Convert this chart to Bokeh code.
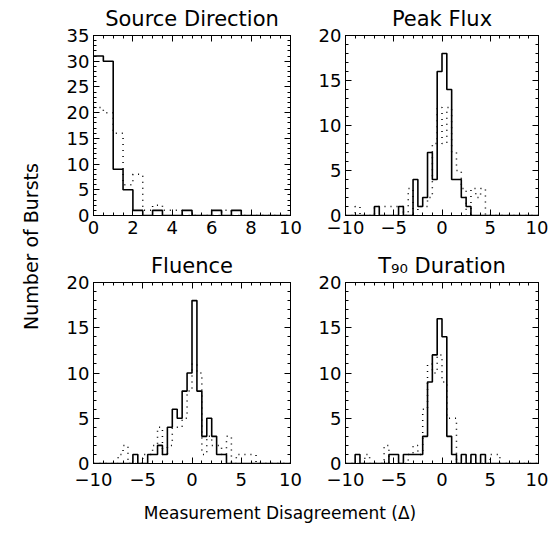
import numpy as np
from bokeh.plotting import figure
from bokeh.layouts import row, column
from bokeh.models import Range1d, FixedTicker, LinearAxis, CustomJSTickFormatter, Title
from bokeh.embed import file_html
from bokeh.resources import INLINE
from bokeh.core.properties import value

FONT = "DejaVu Sans"

# ---------------- data (counts per 0.5-wide bin) ----------------
bin_width = 0.5

# Source Direction: bins start at 0
dir_start = 0.0
dir_solid = [31, 30, 9, 5, 1, 0, 1, 0, 0, 1, 0, 0, 1, 0, 1, 0, 0, 0, 0, 0]
dir_dotted = [21, 20, 16, 6, 8, 1, 2, 1, 1, 0, 0, 0, 0, 1, 0, 0, 0, 0, 0, 0]

# Other panels: bins start at -10 (40 bins)
dis_start = -10.0
peak_solid = [0, 0, 0, 0, 0, 0, 1, 0, 0, 0,
              0, 1, 0, 0, 4, 1, 2, 7, 4, 16,
              18, 14, 4, 4, 2, 1, 0, 0, 0, 0,
              0, 0, 0, 0, 0, 0, 0, 0, 0, 0]
peak_dotted = [0, 0, 1, 0, 0, 0, 1, 1, 1, 1,
               1, 1, 0, 3, 0, 1, 1, 2, 8, 12,
               8, 12, 7, 5, 3, 0, 3, 2, 3, 0,
               0, 0, 0, 0, 0, 0, 0, 0, 0, 0]
flu_solid = [0, 0, 0, 0, 0, 0, 0, 0, 1, 0,
             0, 1, 1, 2, 1, 4, 6, 5, 8, 10,
             18, 8, 3, 5, 3, 1, 1, 0, 0, 0,
             0, 0, 0, 0, 0, 0, 0, 0, 0, 0]
flu_dotted = [0, 0, 0, 0, 0, 1, 2, 0, 0, 0,
              1, 1, 2, 4, 1, 2, 4, 4, 5, 8,
              11, 10, 1, 3, 2, 2, 1, 3, 0, 1,
              1, 1, 1, 0, 0, 0, 0, 0, 0, 0]
t90_solid = [0, 0, 1, 0, 0, 0, 0, 0, 0, 1,
             1, 0, 1, 1, 1, 1, 3, 9, 12, 16,
             14, 3, 1, 0, 1, 0, 1, 0, 1, 0,
             0, 0, 0, 0, 0, 0, 0, 0, 0, 0]
t90_dotted = [0, 0, 0, 0, 1, 0, 0, 0, 2, 0,
              0, 0, 0, 1, 2, 1, 6, 11, 10, 12,
              9, 5, 5, 0, 0, 0, 0, 0, 0, 0,
              1, 1, 0, 0, 0, 0, 0, 0, 0, 0]

titles = ["Source Direction", "Peak Flux", "Fluence", "T\u2089\u2080 Duration"]
y_label = "Number of Bursts"
x_label = "Measurement Disagreement (\u0394)"

dir_xticks = [0, 2, 4, 6, 8, 10]
dis_xticks = [-10, -5, 0, 5, 10]
dir_yticks = [0, 5, 10, 15, 20, 25, 30, 35]
dis_yticks = [0, 5, 10, 15, 20]

# ---------------- helpers ----------------
fmt = CustomJSTickFormatter(code="return tick < 0 ? '\\u2212' + String(Math.abs(tick)) : String(tick);")
blank = CustomJSTickFormatter(code="return '';")


def make_axis(ticks, minor, labels, standoff=5):
    ax = LinearAxis(ticker=FixedTicker(ticks=ticks, minor_ticks=minor),
                    formatter=fmt if labels else blank)
    ax.major_tick_in = 6
    ax.major_tick_out = 0
    ax.minor_tick_in = 3
    ax.minor_tick_out = 0
    ax.axis_line_color = "black"
    ax.major_tick_line_color = "black"
    ax.minor_tick_line_color = "black"
    ax.axis_line_width = 1
    ax.major_label_text_font = FONT
    ax.major_label_text_color = "black"
    if labels:
        ax.major_label_text_font_size = "18px"
        ax.major_label_standoff = standoff
    else:
        ax.major_label_text_font_size = "2px"
        ax.major_label_standoff = 0
    return ax


def panel(title, xr, yr, xticks, xminor, yticks, yminor, start, solid, dotted,
          w, h, bl, br, bt, bb, xstand):
    ttl = Title(text=title, align="center", text_font=FONT, text_font_size="21px",
                text_font_style="normal", text_color="black", standoff=9)
    p = figure(width=w, height=h, x_range=Range1d(*xr), y_range=Range1d(*yr),
               output_backend="svg", toolbar_location=None, title=ttl,
               x_axis_location=None, y_axis_location=None,
               min_border_left=bl, min_border_right=br,
               min_border_top=bt, min_border_bottom=bb)
    p.grid.visible = False
    p.outline_line_color = "black"
    p.background_fill_color = "white"
    p.border_fill_color = "white"
    p.add_layout(make_axis(xticks, xminor, True, xstand), "below")
    p.add_layout(make_axis(yticks, yminor, True, 4), "left")
    p.add_layout(make_axis(xticks, xminor, False), "above")
    p.add_layout(make_axis(yticks, yminor, False), "right")
    n = len(solid)
    edges = [start + bin_width * i for i in range(n + 1)]
    p.step(x=edges, y=list(dotted) + [0], mode="after", line_color="black",
           line_width=1.5, line_dash="1 5")
    p.step(x=edges, y=list(solid) + [0], mode="after", line_color="black",
           line_width=1.6)
    return p


dir_xminor = [i * 0.5 for i in range(0, 21)]
dis_xminor = list(range(-10, 11))
dir_yminor = list(range(0, 36))
dis_yminor = list(range(0, 21))

p1 = panel(titles[0], (0, 10), (0, 35), dir_xticks, dir_xminor, dir_yticks, dir_yminor,
           dir_start, dir_solid, dir_dotted, 265, 245, 43, 25, 33, 30, 5)
p2 = panel(titles[1], (-10, 10), (0, 20), dis_xticks, dis_xminor, dis_yticks, dis_yminor,
           dis_start, peak_solid, peak_dotted, 233, 245, 25, 10, 33, 30, 5)
p3 = panel(titles[2], (-10, 10), (0, 20), dis_xticks, dis_xminor, dis_yticks, dis_yminor,
           dis_start, flu_solid, flu_dotted, 265, 250, 43, 25, 37, 32, 9)
p4 = panel(titles[3], (-10, 10), (0, 20), dis_xticks, dis_xminor, dis_yticks, dis_yminor,
           dis_start, t90_solid, t90_dotted, 233, 250, 25, 10, 37, 32, 9)

# y label strip at the left (full height)
YS_W, YS_H = 50, 527
ys = figure(width=YS_W, height=YS_H, x_range=Range1d(0, YS_W), y_range=Range1d(0, YS_H),
            min_border=0, toolbar_location=None, output_backend="svg",
            x_axis_location=None, y_axis_location=None)
ys.grid.visible = False
ys.outline_line_color = None
ys.text(x=[30], y=[YS_H - 246], text=[y_label], angle=np.pi / 2,
        text_align="center", text_baseline="middle",
        text_font=value(FONT), text_font_size="19px", text_color="black")

# x label strip below the panels
XL_W, XL_H = 498, 32
xl = figure(width=XL_W, height=XL_H, x_range=Range1d(0, XL_W), y_range=Range1d(0, XL_H),
            min_border=0, toolbar_location=None, output_backend="svg",
            x_axis_location=None, y_axis_location=None)
xl.grid.visible = False
xl.outline_line_color = None
xl.text(x=[279.5 - YS_W], y=[15], text=[x_label], text_align="center", text_baseline="middle",
        text_font=value(FONT), text_font_size="17px", text_color="black")

layout = row(ys, column(row(p1, p2), row(p3, p4), xl))

open("out.html", "w").write(file_html(layout, INLINE))
